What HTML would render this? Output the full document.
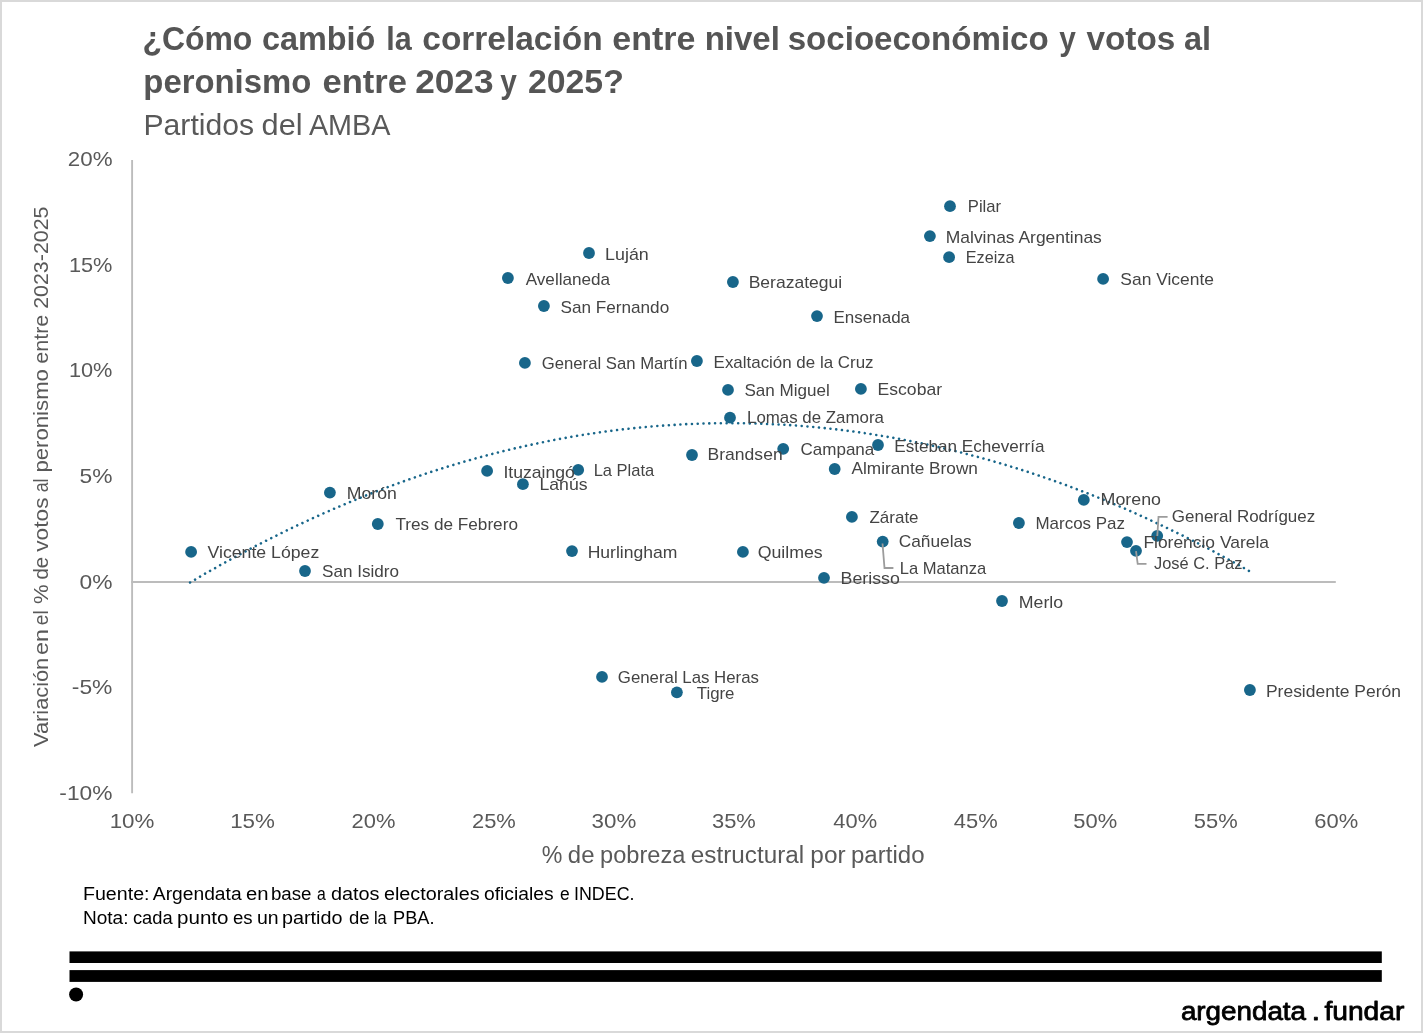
<!DOCTYPE html>
<html lang="es"><head><meta charset="utf-8">
<title>¿Cómo cambió la correlación entre nivel socioeconómico y votos al peronismo entre 2023 y 2025?</title>
<style>
html,body{margin:0;padding:0;background:#fff;}
body{width:1423px;height:1033px;overflow:hidden;position:relative;font-family:"Liberation Sans",sans-serif;}
svg{position:absolute;left:0;top:0;display:block;}
text{font-family:"Liberation Sans",sans-serif;white-space:pre;}
.t{font-weight:bold;font-size:32.4px;fill:#555555;}
.st{font-size:29.3px;fill:#595959;}
.ax{font-size:21px;fill:#595959;}
.axt{font-size:23px;fill:#595959;}
.ayt{font-size:21px;fill:#595959;}
.l{font-size:16.6px;fill:#444444;}
.f{font-size:18.9px;fill:#000;}
.logo{font-size:26.5px;fill:#000;stroke:#000;stroke-width:0.8px;stroke-linejoin:round;}
</style></head><body>
<svg width="1423" height="1033" viewBox="0 0 1423 1033">
<rect x="0" y="0" width="1423" height="1033" fill="#ffffff"/>
<rect x="1" y="1" width="1421" height="1031" fill="none" stroke="#d9d9d9" stroke-width="2"/>
<text class="t" y="49.6"><tspan x="142.40" textLength="109.99" lengthAdjust="spacingAndGlyphs">¿Cómo</tspan> <tspan x="262.00" textLength="113.41" lengthAdjust="spacingAndGlyphs">cambió</tspan> <tspan x="386.20" textLength="25.46" lengthAdjust="spacingAndGlyphs">la</tspan> <tspan x="422.30" textLength="180.34" lengthAdjust="spacingAndGlyphs">correlación</tspan> <tspan x="612.30" textLength="83.07" lengthAdjust="spacingAndGlyphs">entre</tspan> <tspan x="704.70" textLength="75.17" lengthAdjust="spacingAndGlyphs">nivel</tspan> <tspan x="787.70" textLength="261.02" lengthAdjust="spacingAndGlyphs">socioeconómico</tspan> <tspan x="1059.20" textLength="16.57" lengthAdjust="spacingAndGlyphs">y</tspan> <tspan x="1086.50" textLength="88.69" lengthAdjust="spacingAndGlyphs">votos</tspan> <tspan x="1184.00" textLength="27.08" lengthAdjust="spacingAndGlyphs">al</tspan></text>
<text class="t" y="92.7"><tspan x="143.30" textLength="168.04" lengthAdjust="spacingAndGlyphs">peronismo</tspan> <tspan x="322.50" textLength="84.47" lengthAdjust="spacingAndGlyphs">entre</tspan> <tspan x="415.20" textLength="78.37" lengthAdjust="spacingAndGlyphs">2023</tspan> <tspan x="500.20" textLength="16.57" lengthAdjust="spacingAndGlyphs">y</tspan> <tspan x="528.00" textLength="95.76" lengthAdjust="spacingAndGlyphs">2025?</tspan></text>
<text class="st" y="134.6"><tspan x="143.47" textLength="110.59" lengthAdjust="spacingAndGlyphs">Partidos</tspan> <tspan x="261.58" textLength="41.07" lengthAdjust="spacingAndGlyphs">del</tspan> <tspan x="308.90" textLength="81.59" lengthAdjust="spacingAndGlyphs">AMBA</tspan></text>
<line x1="132.1" y1="160.0" x2="132.1" y2="793.3" stroke="#bcbcbc" stroke-width="1.9"/>
<line x1="131.2" y1="582.0" x2="1335.8" y2="582.0" stroke="#bcbcbc" stroke-width="1.9"/>
<text class="ax" x="67.80" y="165.8" textLength="44.70" lengthAdjust="spacingAndGlyphs">20%</text>
<text class="ax" x="68.90" y="271.5" textLength="43.57" lengthAdjust="spacingAndGlyphs">15%</text>
<text class="ax" x="68.90" y="377.2" textLength="43.57" lengthAdjust="spacingAndGlyphs">10%</text>
<text class="ax" x="79.60" y="482.9" textLength="32.94" lengthAdjust="spacingAndGlyphs">5%</text>
<text class="ax" x="79.60" y="588.6" textLength="32.94" lengthAdjust="spacingAndGlyphs">0%</text>
<text class="ax" x="71.80" y="694.3" textLength="40.64" lengthAdjust="spacingAndGlyphs">-5%</text>
<text class="ax" x="59.30" y="800.0" textLength="53.17" lengthAdjust="spacingAndGlyphs">-10%</text>
<text class="ax" x="109.70" y="827.8" textLength="44.76" lengthAdjust="spacingAndGlyphs">10%</text>
<text class="ax" x="230.16" y="827.8" textLength="44.73" lengthAdjust="spacingAndGlyphs">15%</text>
<text class="ax" x="351.52" y="827.8" textLength="43.85" lengthAdjust="spacingAndGlyphs">20%</text>
<text class="ax" x="471.98" y="827.8" textLength="43.82" lengthAdjust="spacingAndGlyphs">25%</text>
<text class="ax" x="591.54" y="827.8" textLength="44.71" lengthAdjust="spacingAndGlyphs">30%</text>
<text class="ax" x="712.00" y="827.8" textLength="43.85" lengthAdjust="spacingAndGlyphs">35%</text>
<text class="ax" x="833.36" y="827.8" textLength="43.77" lengthAdjust="spacingAndGlyphs">40%</text>
<text class="ax" x="953.82" y="827.8" textLength="43.82" lengthAdjust="spacingAndGlyphs">45%</text>
<text class="ax" x="1073.38" y="827.8" textLength="43.87" lengthAdjust="spacingAndGlyphs">50%</text>
<text class="ax" x="1193.84" y="827.8" textLength="43.84" lengthAdjust="spacingAndGlyphs">55%</text>
<text class="ax" x="1314.30" y="827.8" textLength="43.87" lengthAdjust="spacingAndGlyphs">60%</text>
<text class="axt" y="862.6"><tspan x="541.88" textLength="20.64" lengthAdjust="spacingAndGlyphs">%</tspan> <tspan x="567.88" textLength="26.64" lengthAdjust="spacingAndGlyphs">de</tspan> <tspan x="600.12" textLength="85.24" lengthAdjust="spacingAndGlyphs">pobreza</tspan> <tspan x="690.88" textLength="113.27" lengthAdjust="spacingAndGlyphs">estructural</tspan> <tspan x="810.38" textLength="35.27" lengthAdjust="spacingAndGlyphs">por</tspan> <tspan x="851.00" textLength="73.50" lengthAdjust="spacingAndGlyphs">partido</tspan></text>
<text class="ayt" transform="translate(48.1,747.4) rotate(-90)" y="0"><tspan x="0.38" textLength="89.28" lengthAdjust="spacingAndGlyphs">Variación</tspan> <tspan x="92.40" textLength="25.87" lengthAdjust="spacingAndGlyphs">en</tspan> <tspan x="122.22" textLength="14.81" lengthAdjust="spacingAndGlyphs">el</tspan> <tspan x="143.30" textLength="19.64" lengthAdjust="spacingAndGlyphs">%</tspan> <tspan x="167.88" textLength="22.61" lengthAdjust="spacingAndGlyphs">de</tspan> <tspan x="195.64" textLength="54.29" lengthAdjust="spacingAndGlyphs">votos</tspan> <tspan x="255.14" textLength="13.82" lengthAdjust="spacingAndGlyphs">al</tspan> <tspan x="274.82" textLength="103.53" lengthAdjust="spacingAndGlyphs">peronismo</tspan> <tspan x="383.72" textLength="48.95" lengthAdjust="spacingAndGlyphs">entre</tspan> <tspan x="438.56" textLength="102.35" lengthAdjust="spacingAndGlyphs">2023-2025</tspan></text>
<path d="M190.1 582.5 L196.7 578.6 L203.3 574.7 L210.0 570.9 L216.6 567.2 L223.2 563.5 L229.8 559.9 L236.5 556.3 L243.1 552.7 L249.7 549.2 L256.3 545.7 L263.0 542.3 L269.6 539.0 L276.2 535.7 L282.8 532.4 L289.4 529.2 L296.1 526.0 L302.7 522.9 L309.3 519.8 L315.9 516.8 L322.6 513.8 L329.2 510.9 L335.8 508.0 L342.4 505.2 L349.1 502.4 L355.7 499.7 L362.3 497.0 L368.9 494.3 L375.5 491.7 L382.2 489.2 L388.8 486.7 L395.4 484.3 L402.0 481.9 L408.7 479.5 L415.3 477.2 L421.9 475.0 L428.5 472.7 L435.2 470.6 L441.8 468.5 L448.4 466.4 L455.0 464.4 L461.6 462.4 L468.3 460.5 L474.9 458.6 L481.5 456.8 L488.1 455.0 L494.8 453.3 L501.4 451.6 L508.0 450.0 L514.6 448.4 L521.3 446.9 L527.9 445.4 L534.5 444.0 L541.1 442.6 L547.7 441.2 L554.4 439.9 L561.0 438.7 L567.6 437.5 L574.2 436.3 L580.9 435.2 L587.5 434.2 L594.1 433.2 L600.7 432.2 L607.4 431.3 L614.0 430.5 L620.6 429.6 L627.2 428.9 L633.8 428.2 L640.5 427.5 L647.1 426.9 L653.7 426.3 L660.3 425.8 L667.0 425.3 L673.6 424.9 L680.2 424.5 L686.8 424.1 L693.5 423.9 L700.1 423.6 L706.7 423.4 L713.3 423.3 L720.0 423.2 L726.6 423.2 L733.2 423.2 L739.8 423.2 L746.4 423.3 L753.1 423.5 L759.7 423.6 L766.3 423.9 L772.9 424.2 L779.6 424.5 L786.2 424.9 L792.8 425.3 L799.4 425.8 L806.1 426.4 L812.7 426.9 L819.3 427.6 L825.9 428.2 L832.5 429.0 L839.2 429.7 L845.8 430.6 L852.4 431.4 L859.0 432.3 L865.7 433.3 L872.3 434.3 L878.9 435.4 L885.5 436.5 L892.2 437.6 L898.8 438.8 L905.4 440.1 L912.0 441.4 L918.6 442.7 L925.3 444.1 L931.9 445.6 L938.5 447.1 L945.1 448.6 L951.8 450.2 L958.4 451.8 L965.0 453.5 L971.6 455.3 L978.3 457.0 L984.9 458.9 L991.5 460.7 L998.1 462.7 L1004.7 464.6 L1011.4 466.7 L1018.0 468.7 L1024.6 470.8 L1031.2 473.0 L1037.9 475.2 L1044.5 477.5 L1051.1 479.8 L1057.7 482.1 L1064.4 484.5 L1071.0 487.0 L1077.6 489.5 L1084.2 492.0 L1090.8 494.6 L1097.5 497.3 L1104.1 500.0 L1110.7 502.7 L1117.3 505.5 L1124.0 508.3 L1130.6 511.2 L1137.2 514.2 L1143.8 517.1 L1150.5 520.2 L1157.1 523.3 L1163.7 526.4 L1170.3 529.6 L1176.9 532.8 L1183.6 536.0 L1190.2 539.4 L1196.8 542.7 L1203.4 546.1 L1210.1 549.6 L1216.7 553.1 L1223.3 556.7 L1229.9 560.3 L1236.6 563.9 L1243.2 567.6 L1249.8 571.4" fill="none" stroke="#18668a" stroke-width="2.6" stroke-linecap="round" stroke-dasharray="0.01 5.77"/>
<circle cx="950.0" cy="206.2" r="5.90" fill="#18668a"/>
<circle cx="929.9" cy="236.1" r="5.90" fill="#18668a"/>
<circle cx="949.1" cy="257.2" r="5.90" fill="#18668a"/>
<circle cx="589.0" cy="253.0" r="5.90" fill="#18668a"/>
<circle cx="507.9" cy="278.0" r="5.90" fill="#18668a"/>
<circle cx="543.9" cy="306.0" r="5.90" fill="#18668a"/>
<circle cx="732.9" cy="282.0" r="5.90" fill="#18668a"/>
<circle cx="817.0" cy="316.1" r="5.90" fill="#18668a"/>
<circle cx="1103.1" cy="278.9" r="5.90" fill="#18668a"/>
<circle cx="524.9" cy="362.9" r="5.90" fill="#18668a"/>
<circle cx="696.9" cy="361.0" r="5.90" fill="#18668a"/>
<circle cx="728.0" cy="389.9" r="5.90" fill="#18668a"/>
<circle cx="860.9" cy="388.9" r="5.90" fill="#18668a"/>
<circle cx="730.0" cy="417.7" r="5.90" fill="#18668a"/>
<circle cx="692.0" cy="455.0" r="5.90" fill="#18668a"/>
<circle cx="783.2" cy="448.8" r="5.90" fill="#18668a"/>
<circle cx="878.0" cy="445.0" r="5.90" fill="#18668a"/>
<circle cx="834.7" cy="469.0" r="5.90" fill="#18668a"/>
<circle cx="487.1" cy="470.9" r="5.90" fill="#18668a"/>
<circle cx="578.2" cy="469.9" r="5.90" fill="#18668a"/>
<circle cx="522.9" cy="484.2" r="5.90" fill="#18668a"/>
<circle cx="329.9" cy="492.6" r="5.90" fill="#18668a"/>
<circle cx="377.8" cy="524.0" r="5.90" fill="#18668a"/>
<circle cx="191.1" cy="551.9" r="5.90" fill="#18668a"/>
<circle cx="305.0" cy="571.0" r="5.90" fill="#18668a"/>
<circle cx="572.0" cy="551.1" r="5.90" fill="#18668a"/>
<circle cx="742.9" cy="551.9" r="5.90" fill="#18668a"/>
<circle cx="824.0" cy="577.8" r="5.90" fill="#18668a"/>
<circle cx="851.9" cy="516.9" r="5.90" fill="#18668a"/>
<circle cx="882.7" cy="541.6" r="5.90" fill="#18668a"/>
<circle cx="1018.9" cy="523.0" r="5.90" fill="#18668a"/>
<circle cx="1083.8" cy="499.9" r="5.90" fill="#18668a"/>
<circle cx="1157.2" cy="535.8" r="5.90" fill="#18668a"/>
<circle cx="1127.0" cy="542.1" r="5.90" fill="#18668a"/>
<circle cx="1136.0" cy="550.8" r="5.90" fill="#18668a"/>
<circle cx="1002.0" cy="601.0" r="5.90" fill="#18668a"/>
<circle cx="602.0" cy="676.9" r="5.90" fill="#18668a"/>
<circle cx="676.9" cy="692.3" r="5.90" fill="#18668a"/>
<circle cx="1249.9" cy="690.0" r="5.90" fill="#18668a"/>
<path d="M882.5 543.5 L884.5 568 L893.4 568" fill="none" stroke="#9c9c9c" stroke-width="1.8" stroke-linejoin="miter"/>
<path d="M1157.3 536 L1158.5 516.8 L1167.6 516.8" fill="none" stroke="#9c9c9c" stroke-width="1.8" stroke-linejoin="miter"/>
<path d="M1136 551.2 L1137.7 563.8 L1146.5 563.8" fill="none" stroke="#9c9c9c" stroke-width="1.8" stroke-linejoin="miter"/>
<text class="l" x="967.80" y="211.8" textLength="33.28" lengthAdjust="spacingAndGlyphs">Pilar</text>
<text class="l" x="945.80" y="243.0" textLength="156.04" lengthAdjust="spacingAndGlyphs">Malvinas Argentinas</text>
<text class="l" x="965.80" y="262.7" textLength="48.59" lengthAdjust="spacingAndGlyphs">Ezeiza</text>
<text class="l" x="605.10" y="259.9" textLength="43.71" lengthAdjust="spacingAndGlyphs">Luján</text>
<text class="l" x="525.70" y="284.5" textLength="84.41" lengthAdjust="spacingAndGlyphs">Avellaneda</text>
<text class="l" x="560.50" y="312.6" textLength="108.67" lengthAdjust="spacingAndGlyphs">San Fernando</text>
<text class="l" x="748.70" y="287.7" textLength="93.51" lengthAdjust="spacingAndGlyphs">Berazategui</text>
<text class="l" x="833.50" y="322.6" textLength="76.59" lengthAdjust="spacingAndGlyphs">Ensenada</text>
<text class="l" x="1120.33" y="284.7" textLength="93.67" lengthAdjust="spacingAndGlyphs">San Vicente</text>
<text class="l" x="541.80" y="368.5" textLength="145.63" lengthAdjust="spacingAndGlyphs">General San Martín</text>
<text class="l" x="713.60" y="367.8" textLength="159.92" lengthAdjust="spacingAndGlyphs">Exaltación de la Cruz</text>
<text class="l" x="744.40" y="395.7" textLength="85.40" lengthAdjust="spacingAndGlyphs">San Miguel</text>
<text class="l" x="877.60" y="394.7" textLength="64.44" lengthAdjust="spacingAndGlyphs">Escobar</text>
<text class="l" x="747.00" y="423.4" textLength="136.92" lengthAdjust="spacingAndGlyphs">Lomas de Zamora</text>
<text class="l" x="707.60" y="460.4" textLength="75.05" lengthAdjust="spacingAndGlyphs">Brandsen</text>
<text class="l" x="800.50" y="455.4" textLength="73.79" lengthAdjust="spacingAndGlyphs">Campana</text>
<text class="l" x="894.30" y="451.6" textLength="150.23" lengthAdjust="spacingAndGlyphs">Esteban Echeverría</text>
<text class="l" x="851.50" y="474.3" textLength="126.41" lengthAdjust="spacingAndGlyphs">Almirante Brown</text>
<text class="l" x="503.40" y="477.5" textLength="71.42" lengthAdjust="spacingAndGlyphs">Ituzaingó</text>
<text class="l" x="593.70" y="475.8" textLength="60.52" lengthAdjust="spacingAndGlyphs">La Plata</text>
<text class="l" x="539.50" y="490.0" textLength="48.05" lengthAdjust="spacingAndGlyphs">Lanús</text>
<text class="l" x="346.80" y="498.6" textLength="49.98" lengthAdjust="spacingAndGlyphs">Morón</text>
<text class="l" x="395.40" y="529.6" textLength="122.55" lengthAdjust="spacingAndGlyphs">Tres de Febrero</text>
<text class="l" x="207.50" y="557.7" textLength="111.76" lengthAdjust="spacingAndGlyphs">Vicente López</text>
<text class="l" x="322.10" y="576.6" textLength="76.96" lengthAdjust="spacingAndGlyphs">San Isidro</text>
<text class="l" x="587.70" y="557.6" textLength="89.76" lengthAdjust="spacingAndGlyphs">Hurlingham</text>
<text class="l" x="757.70" y="557.5" textLength="65.06" lengthAdjust="spacingAndGlyphs">Quilmes</text>
<text class="l" x="840.60" y="584.2" textLength="59.31" lengthAdjust="spacingAndGlyphs">Berisso</text>
<text class="l" x="869.50" y="522.7" textLength="49.06" lengthAdjust="spacingAndGlyphs">Zárate</text>
<text class="l" x="898.70" y="546.5" textLength="73.09" lengthAdjust="spacingAndGlyphs">Cañuelas</text>
<text class="l" x="899.70" y="573.5" textLength="86.48" lengthAdjust="spacingAndGlyphs">La Matanza</text>
<text class="l" x="1035.50" y="528.6" textLength="89.48" lengthAdjust="spacingAndGlyphs">Marcos Paz</text>
<text class="l" x="1100.60" y="505.4" textLength="60.44" lengthAdjust="spacingAndGlyphs">Moreno</text>
<text class="l" x="1171.80" y="522.3" textLength="143.45" lengthAdjust="spacingAndGlyphs">General Rodríguez</text>
<text class="l" x="1143.40" y="547.6" textLength="125.56" lengthAdjust="spacingAndGlyphs">Florencio Varela</text>
<text class="l" x="1154.00" y="569.1" textLength="88.46" lengthAdjust="spacingAndGlyphs">José C. Paz</text>
<text class="l" x="1018.80" y="607.5" textLength="44.36" lengthAdjust="spacingAndGlyphs">Merlo</text>
<text class="l" x="617.80" y="683.3" textLength="141.17" lengthAdjust="spacingAndGlyphs">General Las Heras</text>
<text class="l" x="696.74" y="698.5" textLength="37.73" lengthAdjust="spacingAndGlyphs">Tigre</text>
<text class="l" x="1265.96" y="696.6" textLength="134.97" lengthAdjust="spacingAndGlyphs">Presidente Perón</text>
<text class="f" y="899.8"><tspan x="82.99" textLength="66.50" lengthAdjust="spacingAndGlyphs">Fuente:</tspan> <tspan x="152.86" textLength="88.73" lengthAdjust="spacingAndGlyphs">Argendata</tspan> <tspan x="245.98" textLength="22.55" lengthAdjust="spacingAndGlyphs">en</tspan> <tspan x="270.95" textLength="40.59" lengthAdjust="spacingAndGlyphs">base</tspan> <tspan x="316.94" textLength="8.77" lengthAdjust="spacingAndGlyphs">a</tspan> <tspan x="330.92" textLength="48.62" lengthAdjust="spacingAndGlyphs">datos</tspan> <tspan x="383.99" textLength="95.56" lengthAdjust="spacingAndGlyphs">electorales</tspan> <tspan x="483.98" textLength="69.60" lengthAdjust="spacingAndGlyphs">oficiales</tspan> <tspan x="559.89" textLength="9.67" lengthAdjust="spacingAndGlyphs">e</tspan> <tspan x="574.00" textLength="60.48" lengthAdjust="spacingAndGlyphs">INDEC.</tspan></text>
<text class="f" y="923.7"><tspan x="82.99" textLength="45.53" lengthAdjust="spacingAndGlyphs">Nota:</tspan> <tspan x="132.90" textLength="39.72" lengthAdjust="spacingAndGlyphs">cada</tspan> <tspan x="177.03" textLength="51.49" lengthAdjust="spacingAndGlyphs">punto</tspan> <tspan x="232.95" textLength="19.64" lengthAdjust="spacingAndGlyphs">es</tspan> <tspan x="256.96" textLength="21.65" lengthAdjust="spacingAndGlyphs">un</tspan> <tspan x="282.03" textLength="60.50" lengthAdjust="spacingAndGlyphs">partido</tspan> <tspan x="348.91" textLength="20.60" lengthAdjust="spacingAndGlyphs">de</tspan> <tspan x="373.93" textLength="12.71" lengthAdjust="spacingAndGlyphs">la</tspan> <tspan x="393.04" textLength="41.48" lengthAdjust="spacingAndGlyphs">PBA.</tspan></text>
<rect x="69.5" y="951.4" width="1312.3" height="11.6" fill="#000"/>
<rect x="69.5" y="970.1" width="1312.3" height="11.8" fill="#000"/>
<circle cx="76.1" cy="994.5" r="7" fill="#000"/>
<text class="logo" y="1019.6"><tspan x="1180.90" textLength="125.13" lengthAdjust="spacingAndGlyphs">argendata</tspan> <tspan x="1311.50" textLength="8.68" lengthAdjust="spacingAndGlyphs">.</tspan> <tspan x="1324.45" textLength="79.93" lengthAdjust="spacingAndGlyphs">fundar</tspan></text>
</svg>
</body></html>
